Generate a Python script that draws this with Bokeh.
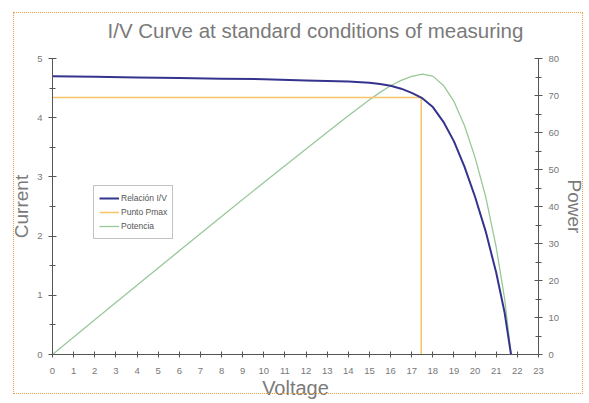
from bokeh.plotting import figure
from bokeh.models import Range1d, LinearAxis, SingleIntervalTicker, Legend, LegendItem, InlineStyleSheet
from bokeh.embed import file_html
from bokeh.resources import INLINE

# ---- data ----
voltage = [0, 2, 4, 6, 8, 10, 12, 13, 14, 15, 15.5, 16, 16.5, 17, 17.5, 18, 18.5,
           19, 19.5, 20, 20.5, 21, 21.4, 21.7]
current = [4.70, 4.69, 4.68, 4.67, 4.66, 4.65, 4.63, 4.62, 4.61, 4.59, 4.57, 4.54,
           4.49, 4.42, 4.33, 4.18, 3.93, 3.60, 3.17, 2.66, 2.08, 1.38, 0.70, 0.0]
power = [0, 9.38, 18.72, 28.02, 37.28, 46.5, 55.56, 60.06, 64.54, 68.85, 70.84, 72.64,
         74.09, 75.14, 75.78, 75.24, 72.71, 68.4, 61.82, 53.2, 42.64, 28.98, 14.98, 0]
pmax_v = [0, 17.45, 17.45]
pmax_i = [4.34, 4.34, 0]

x_ticks_interval = 1
title_text = "I/V Curve at standard conditions of measuring"

FONT = "Liberation Sans"
GREY = "#7a7a7a"

p = figure(width=588, height=402, output_backend="svg", toolbar_location=None,
           x_range=Range1d(0, 23), y_range=Range1d(0, 5),
           min_border_left=52, min_border_right=47, min_border_top=58, min_border_bottom=48,
           background_fill_color="white", border_fill_color="white")
p.outline_line_color = None
p.xgrid.visible = False
p.ygrid.visible = False
p.extra_y_ranges = {"power": Range1d(0, 80)}

p.title.text = title_text
p.title.text_font = FONT
p.title.text_font_size = "20.5px"
p.title.text_font_style = "normal"
p.title.text_color = GREY
p.title.align = "left"
p.title.offset = 55
p.title.standoff = 33

l_green = p.line(voltage, power, y_range_name="power", line_color="#98c898", line_width=1.3)
l_pmax = p.line(pmax_v, pmax_i, line_color="#f7c46a", line_width=1.5)
l_blue = p.line(voltage, current, line_color="#34348e", line_width=2)

def style_axis(ax):
    ax.axis_line_color = "#555555"
    ax.major_tick_line_color = "#555555"
    ax.minor_tick_line_color = "#555555"
    ax.major_tick_in = 4
    ax.major_tick_out = 4
    ax.minor_tick_in = 3
    ax.minor_tick_out = 3
    ax.major_label_text_font = FONT
    ax.major_label_text_font_size = "9.5px"
    ax.major_label_text_color = "#777777"
    ax.axis_label_text_font = FONT
    ax.axis_label_text_font_size = "19px"
    ax.axis_label_text_font_style = "normal"
    ax.axis_label_text_color = GREY

xa = p.xaxis[0]
xa.ticker = SingleIntervalTicker(interval=x_ticks_interval, num_minor_ticks=0)
style_axis(xa)
xa.major_tick_in = 3
xa.major_tick_out = 3
xa.minor_tick_line_color = None
xa.major_label_standoff = 10
xa.axis_label = "Voltage"
xa.axis_label_text_font_size = "20px"
xa.axis_label_standoff = 0

ya = p.yaxis[0]
ya.ticker = SingleIntervalTicker(interval=1, num_minor_ticks=2)
style_axis(ya)
ya.major_label_standoff = 6
ya.axis_label = "Current"
ya.axis_label_standoff = 2

ra = LinearAxis(y_range_name="power", ticker=SingleIntervalTicker(interval=10, num_minor_ticks=2))
style_axis(ra)
ra.major_label_standoff = 6
ra.axis_label = "Power"
ra.axis_label_standoff = 2
p.add_layout(ra, "right")

legend = Legend(items=[LegendItem(label="Relación I/V", renderers=[l_blue]),
                       LegendItem(label="Punto Pmax", renderers=[l_pmax]),
                       LegendItem(label="Potencia", renderers=[l_green])],
                location=(41, 115))
legend.label_text_font = FONT
legend.label_text_font_size = "8.5px"
legend.label_text_color = "#555555"
legend.glyph_width = 20
legend.glyph_height = 14
legend.label_height = 14
legend.label_standoff = 2
legend.spacing = 0
legend.padding = 5
legend.margin = 0
legend.border_line_color = "#888888"
legend.background_fill_color = "white"
p.add_layout(legend, "center")

# dotted orange frame around the whole chart (as in the reference)
p.stylesheets = [InlineStyleSheet(css="""
:host { position: relative; }
:host::after {
  content: ""; position: absolute; left: 13px; top: 12px; width: 570px; height: 382px;
  border: 1.5px dotted #e8a040; pointer-events: none; z-index: 100; box-sizing: border-box;
}
""")]

open("out.html", "w").write(file_html(p, INLINE))
